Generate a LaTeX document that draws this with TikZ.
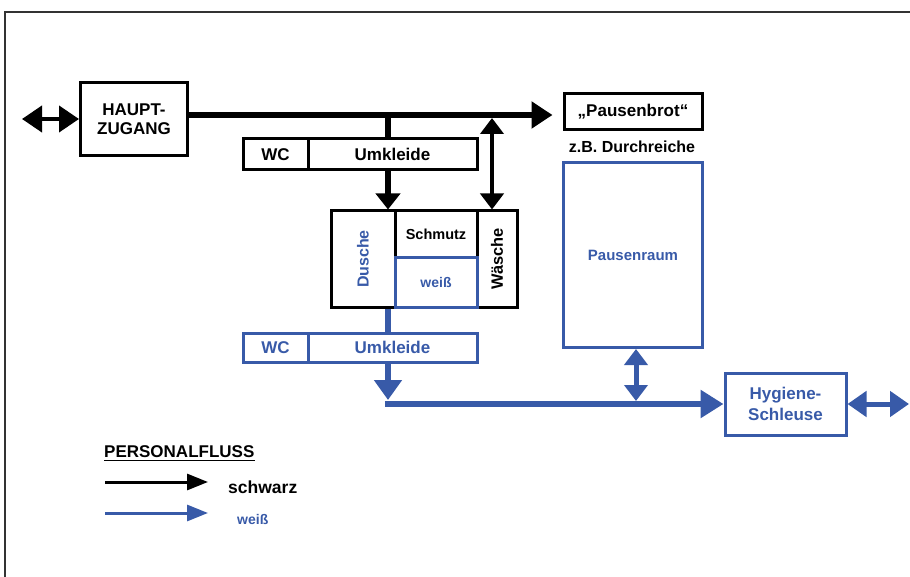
\documentclass[tikz,border=0pt]{standalone}
\usepackage{fontspec}
\setmainfont{Liberation Sans}
\usetikzlibrary{arrows.meta}
\definecolor{bl}{RGB}{56,90,168}
\begin{document}
\begin{tikzpicture}[x=1pt,y=-1pt,
  every node/.style={font=\bfseries\fontsize{17}{18.5}\selectfont, inner sep=0pt},
  box/.style={draw, line width=3pt, inner sep=0pt},
  bbox/.style={box, draw=black},
  ubox/.style={box, draw=bl, text=bl},
  thk/.style={line width=6.5pt},
  mid/.style={line width=4pt},
  bigtip/.style={-{Triangle[length=21pt,width=26pt]}},
  dtip/.style={{Triangle[length=16pt,width=23pt]}-{Triangle[length=16pt,width=23pt]}},
  ltip/.style={-{Triangle[length=21pt,width=16pt]}}
]
\useasboundingbox (0,0) rectangle (910,577);
\draw[line width=1.5pt, draw=black!80] (5,577) -- (5,12) -- (910,12);

% nodes
\node[bbox, minimum width=107pt, minimum height=73pt, align=center] (hz) at (134,119) {HAUPT-\\ZUGANG};
\node[bbox, minimum width=138pt, minimum height=36pt] (pb) at (633,112) {„Pausenbrot“};
\node[font=\bfseries\fontsize{16}{18}\selectfont] (zb) at (632,147) {z.B. Durchreiche};
\node[ubox, minimum width=139pt, minimum height=185pt] (pr) at (633,255) {\fontsize{15}{18}\selectfont Pausenraum};

\node[bbox, minimum width=65pt, minimum height=31pt] (wc1) at (275.5,154.5) {WC};
\node[bbox, minimum width=169pt, minimum height=31pt] (uk1) at (392.5,154.5) {Umkleide};

\node[bbox, minimum width=64pt, minimum height=96pt, label={[rotate=90,text=bl,font=\bfseries\fontsize{16}{18}\selectfont]center:Dusche}] (du) at (363,259) {};
\node[bbox, minimum width=82pt, minimum height=47pt] (sm) at (436,234.5) {\fontsize{14.5}{17}\selectfont Schmutz};
\node[bbox, minimum width=40pt, minimum height=96pt, label={[rotate=90,font=\bfseries\fontsize{16.4}{18}\selectfont]center:Wäsche}] (wa) at (497,259) {};
\node[ubox, minimum width=82pt, minimum height=49pt] (ws) at (436,282.5) {\fontsize{14}{17}\selectfont weiß};

\node[ubox, minimum width=65pt, minimum height=29pt] (wc2) at (275.5,347.5) {WC};
\node[ubox, minimum width=169pt, minimum height=29pt] (uk2) at (392.5,347.5) {Umkleide};
\node[ubox, minimum width=121pt, minimum height=62pt, align=center, font=\bfseries\fontsize{17}{20.5}\selectfont] (hy) at (785.5,404) {Hygiene-\\Schleuse};

% coordinates
\coordinate (e0) at (22,119);
\coordinate (j1) at (388,115);
\coordinate (j2) at (492,115);
\coordinate (b1) at (388,404);
\coordinate (j3) at (636,404);
\coordinate (e1) at (909,404);

% black flow
\draw[mid, {Triangle[length=20pt,width=26pt]}-{Triangle[length=20pt,width=26pt]}] (e0) -- (hz.west);
\draw[thk, bigtip] (hz.east |- j1) -- ([xshift=-10pt]pb.west |- j1);
\draw[thk] (j1) -- (uk1.north -| j1);
\draw[thk, -{Triangle[length=16pt,width=24pt]}] (uk1.south -| j1) -- (du.north -| j1);
\draw[mid, dtip] ([yshift=-3pt]j2) -- (wa.north -| j2);

% blue flow
\draw[bl, thk] (du.south -| j1) -- (uk2.north -| j1);
\draw[bl, thk, -{Triangle[length=20pt,width=27pt]}] (uk2.south -| j1) -- ([yshift=4pt]b1);
\draw[bl, thk, -{Triangle[length=23pt,width=27pt]}] ([xshift=-3.25pt]b1) -- (hy.west |- b1);
\draw[bl, line width=5pt, dtip] (pr.south -| j3) -- ([yshift=3pt]j3);
\draw[bl, line width=5pt, {Triangle[length=19pt,width=25pt]}-{Triangle[length=19pt,width=25pt]}] (hy.east) -- (e1);

% legend
\node[anchor=west] (pf) at (104,452) {PERSONALFLUSS};
\draw[line width=1.5pt] ([yshift=-2.5pt]pf.south west) -- ([yshift=-2.5pt]pf.south east);
\node[anchor=west, font=\bfseries\fontsize{17.5}{19}\selectfont] (sw) at (228,487) {schwarz};
\node[anchor=west, text=bl, font=\bfseries\fontsize{14}{17}\selectfont] (wl) at (237,519) {weiß};
\coordinate (l1) at (105,482);
\coordinate (l2) at (105,513);
\draw[line width=3pt, ltip] (l1) -- ([xshift=-20pt]sw.west |- l1);
\draw[bl, line width=3pt, ltip] (l2) -- ([xshift=-29pt]wl.west |- l2);
\end{tikzpicture}
\end{document}
